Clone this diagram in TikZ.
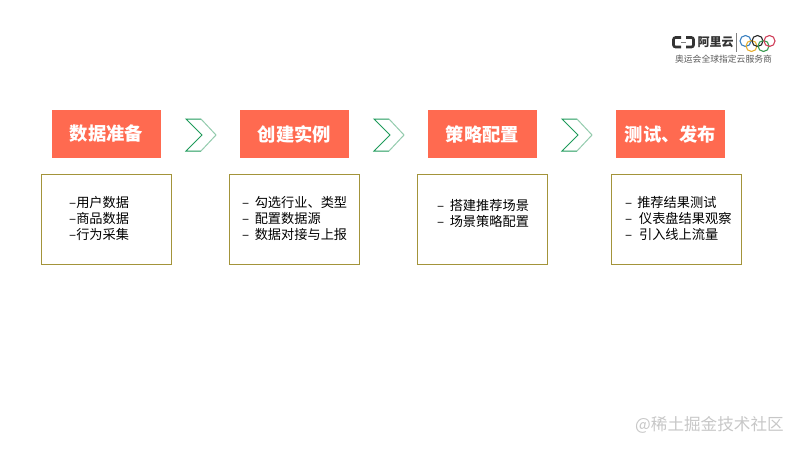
\documentclass[tikz,border=0pt]{standalone}
\usepackage{xcolor}
\usepackage{fontspec}
\setmainfont{Noto Sans CJK SC}
\definecolor{headred}{HTML}{FF6A50}
\definecolor{boxolive}{HTML}{A3943A}
\definecolor{chevdark}{HTML}{1E9A5A}
\definecolor{chevlight}{HTML}{93CBAD}
\definecolor{ringblue}{HTML}{3A80C0}
\definecolor{ringyellow}{HTML}{E8B030}
\definecolor{ringgreen}{HTML}{3A9A50}
\definecolor{ringred}{HTML}{D0405A}
\usetikzlibrary{calc}

\tikzset{
  headbox/.style = {fill = headred, text = white, minimum width = 109pt, minimum height = 48pt, inner sep = 0pt, font = \fontsize{18.3}{20}\selectfont\bfseries},
  bodybox/.style = {draw = boxolive, line width = 1pt, minimum width = 130.3pt, minimum height = 90.5pt, inner sep = 0pt, outer sep = 0pt},
  bodytext/.style = {anchor = west, align = left, inner sep = 0pt, font = \fontsize{13.2}{16}\selectfont},
  chevron/.pic = {
    \draw[chevdark, line width = 1pt] (15,0)--(0,0)--(16,16)--(0,32)--(15,32);
    \draw[chevlight, line width = 1pt] (15,0)--(30,16)--(15,32);
  },
  ring/.style = {line width = 1.1pt}
}

\begin{document}
\begin{tikzpicture}[x = 1pt, y = -1pt]
\useasboundingbox (0,0) rectangle (800,450);
% top row
\node[headbox] (head1) at (106.5,134) {数据准备};
\node[headbox] (head2) at (294.5,134) {创建实例};
\node[headbox] (head3) at (482.5,134) {策略配置};
\node[headbox] (head4) at (670.5,134) {测试、发布};
% arrows between the steps
\pic at (186,119) {chevron};
\pic at (374,119) {chevron};
\pic at (562,119) {chevron};
% lower row
\node[bodybox] (body1) at (106.5,219.3) {};
\node[bodybox] (body2) at (294.7,219.3) {};
\node[bodybox] (body3) at (482.7,219.3) {};
\node[bodybox] (body4) at (676.5,219.3) {};
\node[bodytext] (list1) at (69,218) {–用户数据\\–商品数据\\–行为采集};
\node[bodytext] (list2) at (242,218) {–\hspace{5.5pt}勾选行业、类型\\–\hspace{5.5pt}配置数据源\\–\hspace{5.5pt}数据对接与上报};
\node[bodytext] (list3) at (437,213) {–\hspace{5.5pt}搭建推荐场景\\–\hspace{5.5pt}场景策略配置};
\node[bodytext] (list4) at (625,218) {–\hspace{5pt}推荐结果测试\\–\hspace{6.8pt}仪表盘结果观察\\–\hspace{6.8pt}引入线上流量};
% logo
\draw[line width = 2.6pt, color = black!80, rounded corners = 2pt] (681,37.5)--(673.5,37.5)--(673.5,47)--(681,47);
\draw[line width = 2.6pt, color = black!80, rounded corners = 2pt] (686,37.5)--(693.5,37.5)--(693.5,47)--(686,47);
\draw[line width = 0.8pt, color = black!50] (681,42.3)--(686,42.3);
\node[inner sep = 0pt, text = black!80, font = \fontsize{12}{12}\selectfont\bfseries] (logoname) at (715.5,42) {阿里云};
\draw[thin, color = black!50] (736,33)--(736,52);
\draw[ring, color = ringblue] (745.5,41) circle (5.5pt);
\draw[ring, color = ringyellow] (751.5,46) circle (5.5pt);
\draw[ring, color = black!85] (757.5,41) circle (5.5pt);
\draw[ring, color = ringgreen] (763.5,46) circle (5.5pt);
\draw[ring, color = ringred] (769.5,41) circle (5.5pt);
\node[inner sep = 0pt, text = black!65, font = \fontsize{8.8}{9}\selectfont] (logotag) at (723.5,59) {奥运会全球指定云服务商};
% watermark
\node[anchor = west, inner sep = 0pt, text = black!22, font = \fontsize{16.6}{17}\selectfont] (mark) at (635,425) {@稀土掘金技术社区};
\end{tikzpicture}
\end{document}
